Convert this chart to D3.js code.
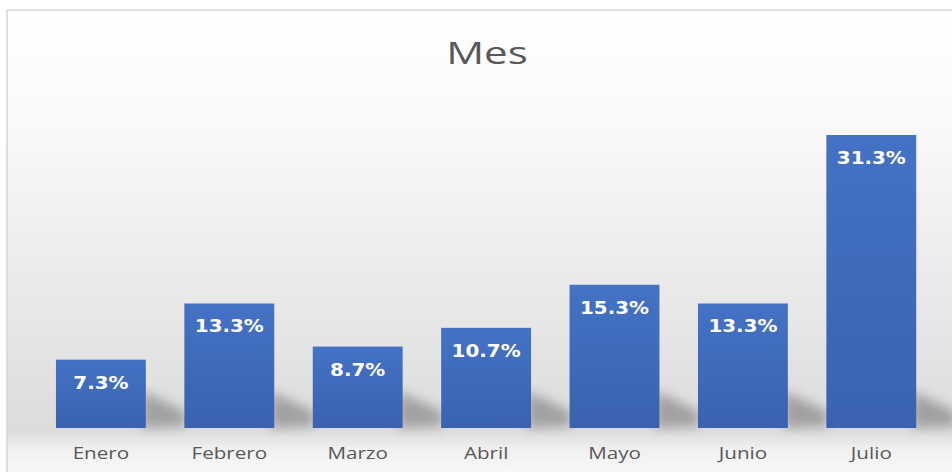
<!DOCTYPE html>
<html>
<head>
<meta charset="utf-8">
<script src="https://cdn.jsdelivr.net/npm/d3@7"></script>
<style>
  body { margin: 0; background: #fff; }
  svg { display: block; }
</style>
</head>
<body>
<div class="chart"></div>
<script>
var meses = ["Enero", "Febrero", "Marzo", "Abril", "Mayo", "Junio", "Julio"];
var valores = [7.3, 13.3, 8.7, 10.7, 15.3, 13.3, 31.3];
var titulo = "Mes";

var w = 952, h = 472;
var base = 428;   // linea base de las barras

var svg = d3.select("div.chart").append("svg")
  .attr("width", w)
  .attr("height", h);

var defs = svg.append("defs");

// fondo: blanco arriba, gris hacia la base, claro debajo
var bg = defs.append("linearGradient")
  .attr("id", "fondo")
  .attr("x1", 0).attr("y1", 0).attr("x2", 0).attr("y2", 1);
bg.append("stop").attr("offset", "0%").attr("stop-color", "#ffffff");
bg.append("stop").attr("offset", "25%").attr("stop-color", "#f9f9f9");
bg.append("stop").attr("offset", "89%").attr("stop-color", "#dcdcdc");
bg.append("stop").attr("offset", "93%").attr("stop-color", "#f0f0f0");
bg.append("stop").attr("offset", "100%").attr("stop-color", "#fbfbfb");

var barGrad = defs.append("linearGradient")
  .attr("id", "barra")
  .attr("x1", 0).attr("y1", 0).attr("x2", 0).attr("y2", 1);
barGrad.append("stop").attr("offset", "0%").attr("stop-color", "#4472c4");
barGrad.append("stop").attr("offset", "100%").attr("stop-color", "#3a62b0");

defs.append("filter")
  .attr("id", "difuso")
  .attr("x", "-50%").attr("y", "-50%").attr("width", "200%").attr("height", "200%")
  .append("feGaussianBlur").attr("stdDeviation", 6);

svg.append("rect")
  .attr("x", 7).attr("y", 10)
  .attr("width", w).attr("height", h)
  .attr("fill", "url(#fondo)")
  .attr("stroke", "#d6d6d6")
  .attr("stroke-width", 1.5);

var x = d3.scaleBand()
  .domain(meses)
  .range([36.7, 935.5])
  .paddingInner(0.3)
  .paddingOuter(0.15);

var y = d3.scaleLinear()
  .domain([0, 31.3])
  .range([base, 135]);

var datos = meses.map(function(m, i) { return {mes: m, valor: valores[i]}; });

// sombras
svg.append("g").selectAll("path")
  .data(datos)
  .enter().append("path")
    .attr("fill", "#777777")
    .attr("opacity", 0.6)
    .attr("filter", "url(#difuso)")
    .attr("d", function(d) {
      var r = x(d.mes) + x.bandwidth();
      var t = Math.max(y(d.valor), base - 45);
      return "M" + (r - 4) + "," + (t + 8) + " L" + (r + 40) + "," + (base - 16) +
             " L" + (r + 40) + "," + (base - 2) + " L" + (r - 4) + "," + (base) + "Z";
    });

svg.append("g").selectAll("rect")
  .data(datos)
  .enter().append("rect")
    .attr("x", function(d) { return x(d.mes); })
    .attr("y", function(d) { return y(d.valor); })
    .attr("width", x.bandwidth())
    .attr("height", function(d) { return base - y(d.valor); })
    .attr("fill", "url(#barra)");

// el original esta estirado en horizontal, por eso scale(sx,1)
svg.append("g").selectAll("text")
  .data(datos)
  .enter().append("text")
    .attr("transform", function(d) {
      return "translate(" + (x(d.mes) + x.bandwidth() / 2) + "," + (y(d.valor) + 29) + ") scale(1.17,1)";
    })
    .attr("text-anchor", "middle")
    .attr("fill", "#ffffff")
    .attr("font-family", "'DejaVu Sans', sans-serif")
    .attr("font-weight", "bold")
    .attr("font-size", 17)
    .text(function(d) { return d.valor.toFixed(1) + "%"; });

var xAxis = d3.axisBottom(x).tickSize(0).tickPadding(18);

var ejeX = svg.append("g")
  .attr("transform", "translate(0," + base + ")")
  .call(xAxis);
ejeX.select(".domain").remove();
ejeX.selectAll("text")
  .attr("fill", "#595959")
  .attr("font-family", "'Open Sans', sans-serif")
  .attr("font-size", 16.5)
  .attr("transform", "scale(1.25,1)")
  .attr("y", null)
  .attr("dy", null);
ejeX.selectAll(".tick text")
  .attr("y", 31);

svg.append("text")
  .attr("transform", "translate(487,64) scale(1.36,1)")
  .attr("text-anchor", "middle")
  .attr("fill", "#595959")
  .attr("font-family", "'Open Sans', sans-serif")
  .attr("font-size", 31)
  .text(titulo);
</script>
</body>
</html>
